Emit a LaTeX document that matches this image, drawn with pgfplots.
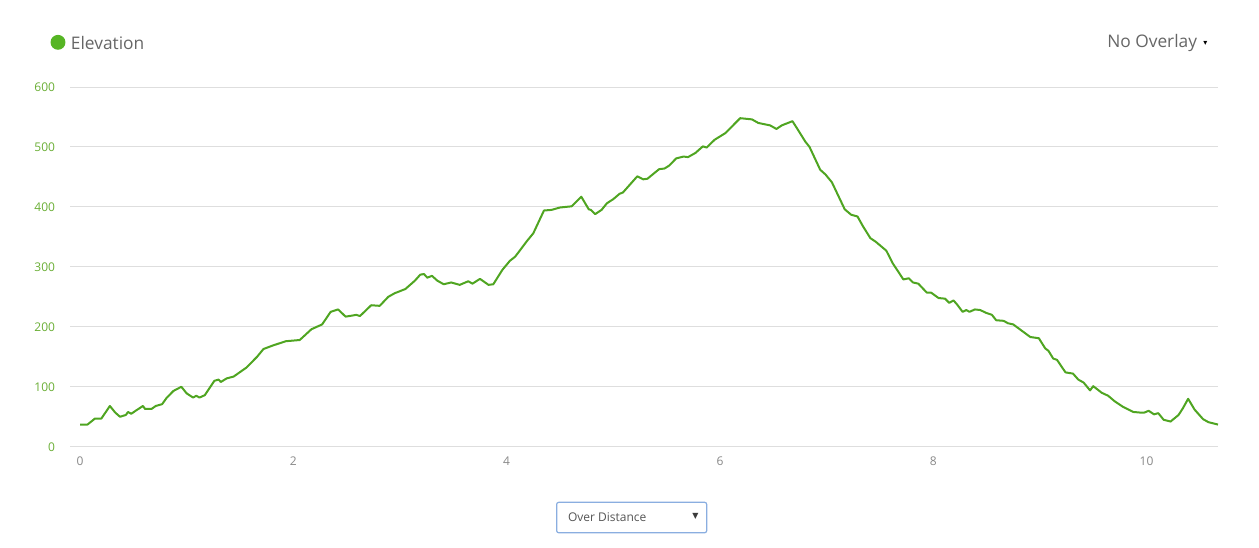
\documentclass[border=0pt]{standalone}
\usepackage{fontspec}
\setmainfont{Open Sans}
\newfontfamily\dejavu{DejaVu Sans}
\usepackage{pgfplots}
\pgfplotsset{compat=1.18}
\definecolor{lineg}{HTML}{4FA521}
\definecolor{dotg}{HTML}{56B524}
\definecolor{tickg}{HTML}{6AAE35}
\definecolor{gridc}{HTML}{DEDEDE}
\definecolor{txtg}{HTML}{555555}
\definecolor{hdrg}{HTML}{666666}
\definecolor{xtk}{HTML}{888888}
\definecolor{boxb}{HTML}{8AAEE0}
\begin{document}
\begin{tikzpicture}
\useasboundingbox (0,0) rectangle (944.25pt,410.25pt);
\begin{axis}[
  at={(52.5pt,75.2pt)}, anchor=south west,
  scale only axis, width=861pt, height=269.8pt,
  xmin=-0.094, xmax=10.67, ymin=0, ymax=600,
  axis line style={draw=none},
  ymajorgrids, grid style={gridc, line width=0.75pt},
  xtick={0,2,4,6,8,10}, ytick={0,100,200,300,400,500,600},
  major tick length=0pt,
  /pgf/number format/assume math mode=true,
  yticklabel style={font=\fontsize{9}{10}\selectfont, text=tickg, inner sep=0pt, anchor=east, xshift=-11pt},
  xticklabel style={font=\fontsize{9}{10}\selectfont, text=xtk, inner sep=0pt, anchor=north, yshift=-7.5pt},
  clip=false,
]
\addplot[lineg, line width=1.5pt, line join=round] table {
x y
0.00 37
0.07 37
0.14 47
0.20 47
0.28 68
0.33 57
0.375 50
0.43 53
0.45 58
0.48 55
0.53 61
0.59 68
0.61 63
0.67 63
0.71 68
0.77 71
0.81 81
0.875 93
0.95 100
1.00 89
1.06 82
1.09 85
1.12 82
1.17 86
1.26 110
1.30 112
1.32 108
1.375 114
1.44 117
1.56 132
1.66 150
1.72 163
1.81 169
1.93 176
2.06 178
2.17 196
2.27 204
2.35 225
2.42 229
2.49 217
2.56 219
2.59 220
2.625 218
2.73 236
2.81 235
2.89 250
2.95 256
3.05 263
3.14 277
3.19 287
3.225 288
3.256 282
3.30 285
3.35 277
3.41 271
3.48 274
3.56 270
3.64 276
3.68 272
3.75 280
3.83 270
3.875 271
3.96 295
4.03 310
4.08 317
4.19 343
4.25 356
4.35 394
4.42 395
4.50 399
4.61 401
4.70 417
4.77 396
4.79 395
4.83 388
4.89 395
4.94 406
5.00 413
5.06 422
5.09 424
5.14 434
5.225 451
5.28 446
5.32 447
5.43 463
5.48 464
5.525 469
5.59 481
5.66 484
5.70 483
5.77 490
5.84 501
5.875 499
5.95 512
6.05 523
6.19 548
6.30 546
6.36 540
6.47 536
6.53 530
6.58 536
6.68 543
6.73 529
6.80 509
6.84 500
6.94 462
6.99 454
7.05 441
7.17 396
7.23 387
7.29 384
7.34 368
7.41 348
7.46 342
7.56 327
7.62 306
7.72 279
7.77 281
7.81 274
7.86 272
7.94 257
7.98 257
8.05 248
8.11 247
8.15 240
8.19 244
8.22 238
8.275 225
8.31 228
8.34 225
8.39 229
8.44 228
8.50 223
8.55 220
8.59 211
8.66 210
8.70 206
8.75 204
8.91 183
8.99 181
9.05 164
9.08 160
9.125 147
9.16 145
9.24 124
9.31 122
9.36 112
9.41 107
9.47 94
9.50 101
9.58 90
9.64 85
9.70 76
9.775 67
9.875 58
9.94 57
9.98 57
10.02 60
10.07 54
10.11 56
10.16 45
10.225 42
10.30 53
10.34 64
10.39 80
10.45 62
10.53 46
10.58 41
10.67 37
};
\end{axis}
% header
\fill[dotg] (43.5pt,378.5pt) circle (5.6pt);
\node[anchor=west, inner sep=0pt, text=hdrg, font=\fontsize{13}{15}\selectfont] at (53pt,378.2pt) {Elevation};
\node[anchor=east, inner sep=0pt, text=hdrg, font=\fontsize{13}{15}\selectfont] at (898pt,378.2pt) {No Overlay};
\node[inner sep=0pt, font=\dejavu\fontsize{6}{7}\selectfont] at (904pt,377.5pt) {▾};
% dropdown
\draw[boxb, line width=0.9pt, rounded corners=1.5pt] (417.5pt,10.7pt) rectangle (530pt,33.5pt);
\node[anchor=west, inner sep=0pt, text=txtg, font=\fontsize{9}{10}\selectfont] at (425.8pt,22.3pt) {Over Distance};
\node[inner sep=0pt, text=txtg!70!black, font=\dejavu\fontsize{6}{7}\selectfont] at (521.5pt,23pt) {▼};
\end{tikzpicture}
\end{document}
